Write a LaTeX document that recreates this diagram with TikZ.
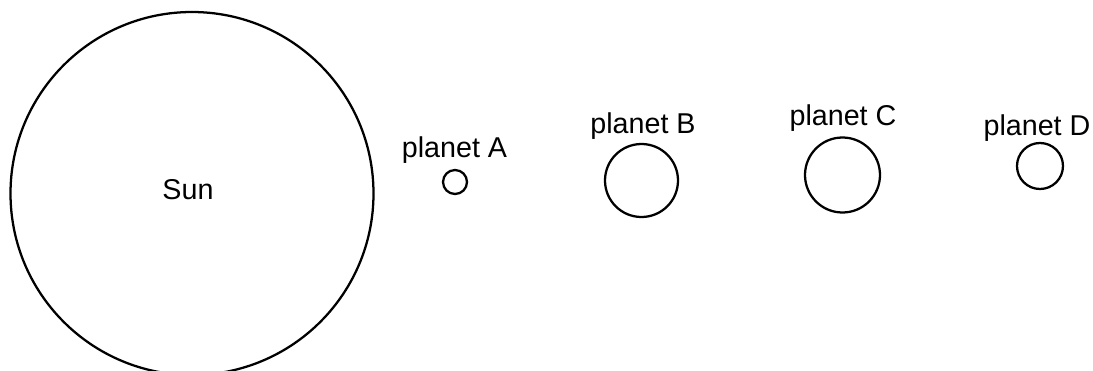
\documentclass[tikz,border=0pt]{standalone}
\usepackage{fontspec}
\setmainfont{Liberation Sans}
\begin{document}
\begin{tikzpicture}[x=0.75pt, y=-0.75pt,
  body/.style={circle, draw=black, line width=1.7pt, inner sep=0pt, fill=none},
  lbl/.style={anchor=base, inner sep=0pt, font=\fontsize{21.5}{25}\selectfont}]
  \useasboundingbox (0,0) rectangle (1093,371);
  \begin{scope}
    \clip (0,0) rectangle (1093,371);
    % the sun
    \node[body, minimum size=363*0.75pt] (sun) at (192,193.5) {};
    \node[lbl] (sunlabel) at (188,199) {Sun};
    % planets
    \node[body, minimum size=24*0.75pt] (pa) at (455,182) {};
    \node[lbl] (pal) at (454.5,157) {planet A};
    \node[body, minimum size=73*0.75pt] (pb) at (641.5,180.5) {};
    \node[lbl] (pbl) at (643,133) {planet B};
    \node[body, minimum size=75*0.75pt] (pc) at (842.5,175) {};
    \node[lbl] (pcl) at (843,125) {planet C};
    \node[body, minimum size=46*0.75pt] (pd) at (1040,166) {};
    \node[lbl] (pdl) at (1037,135) {planet D};
  \end{scope}
\end{tikzpicture}
\end{document}
